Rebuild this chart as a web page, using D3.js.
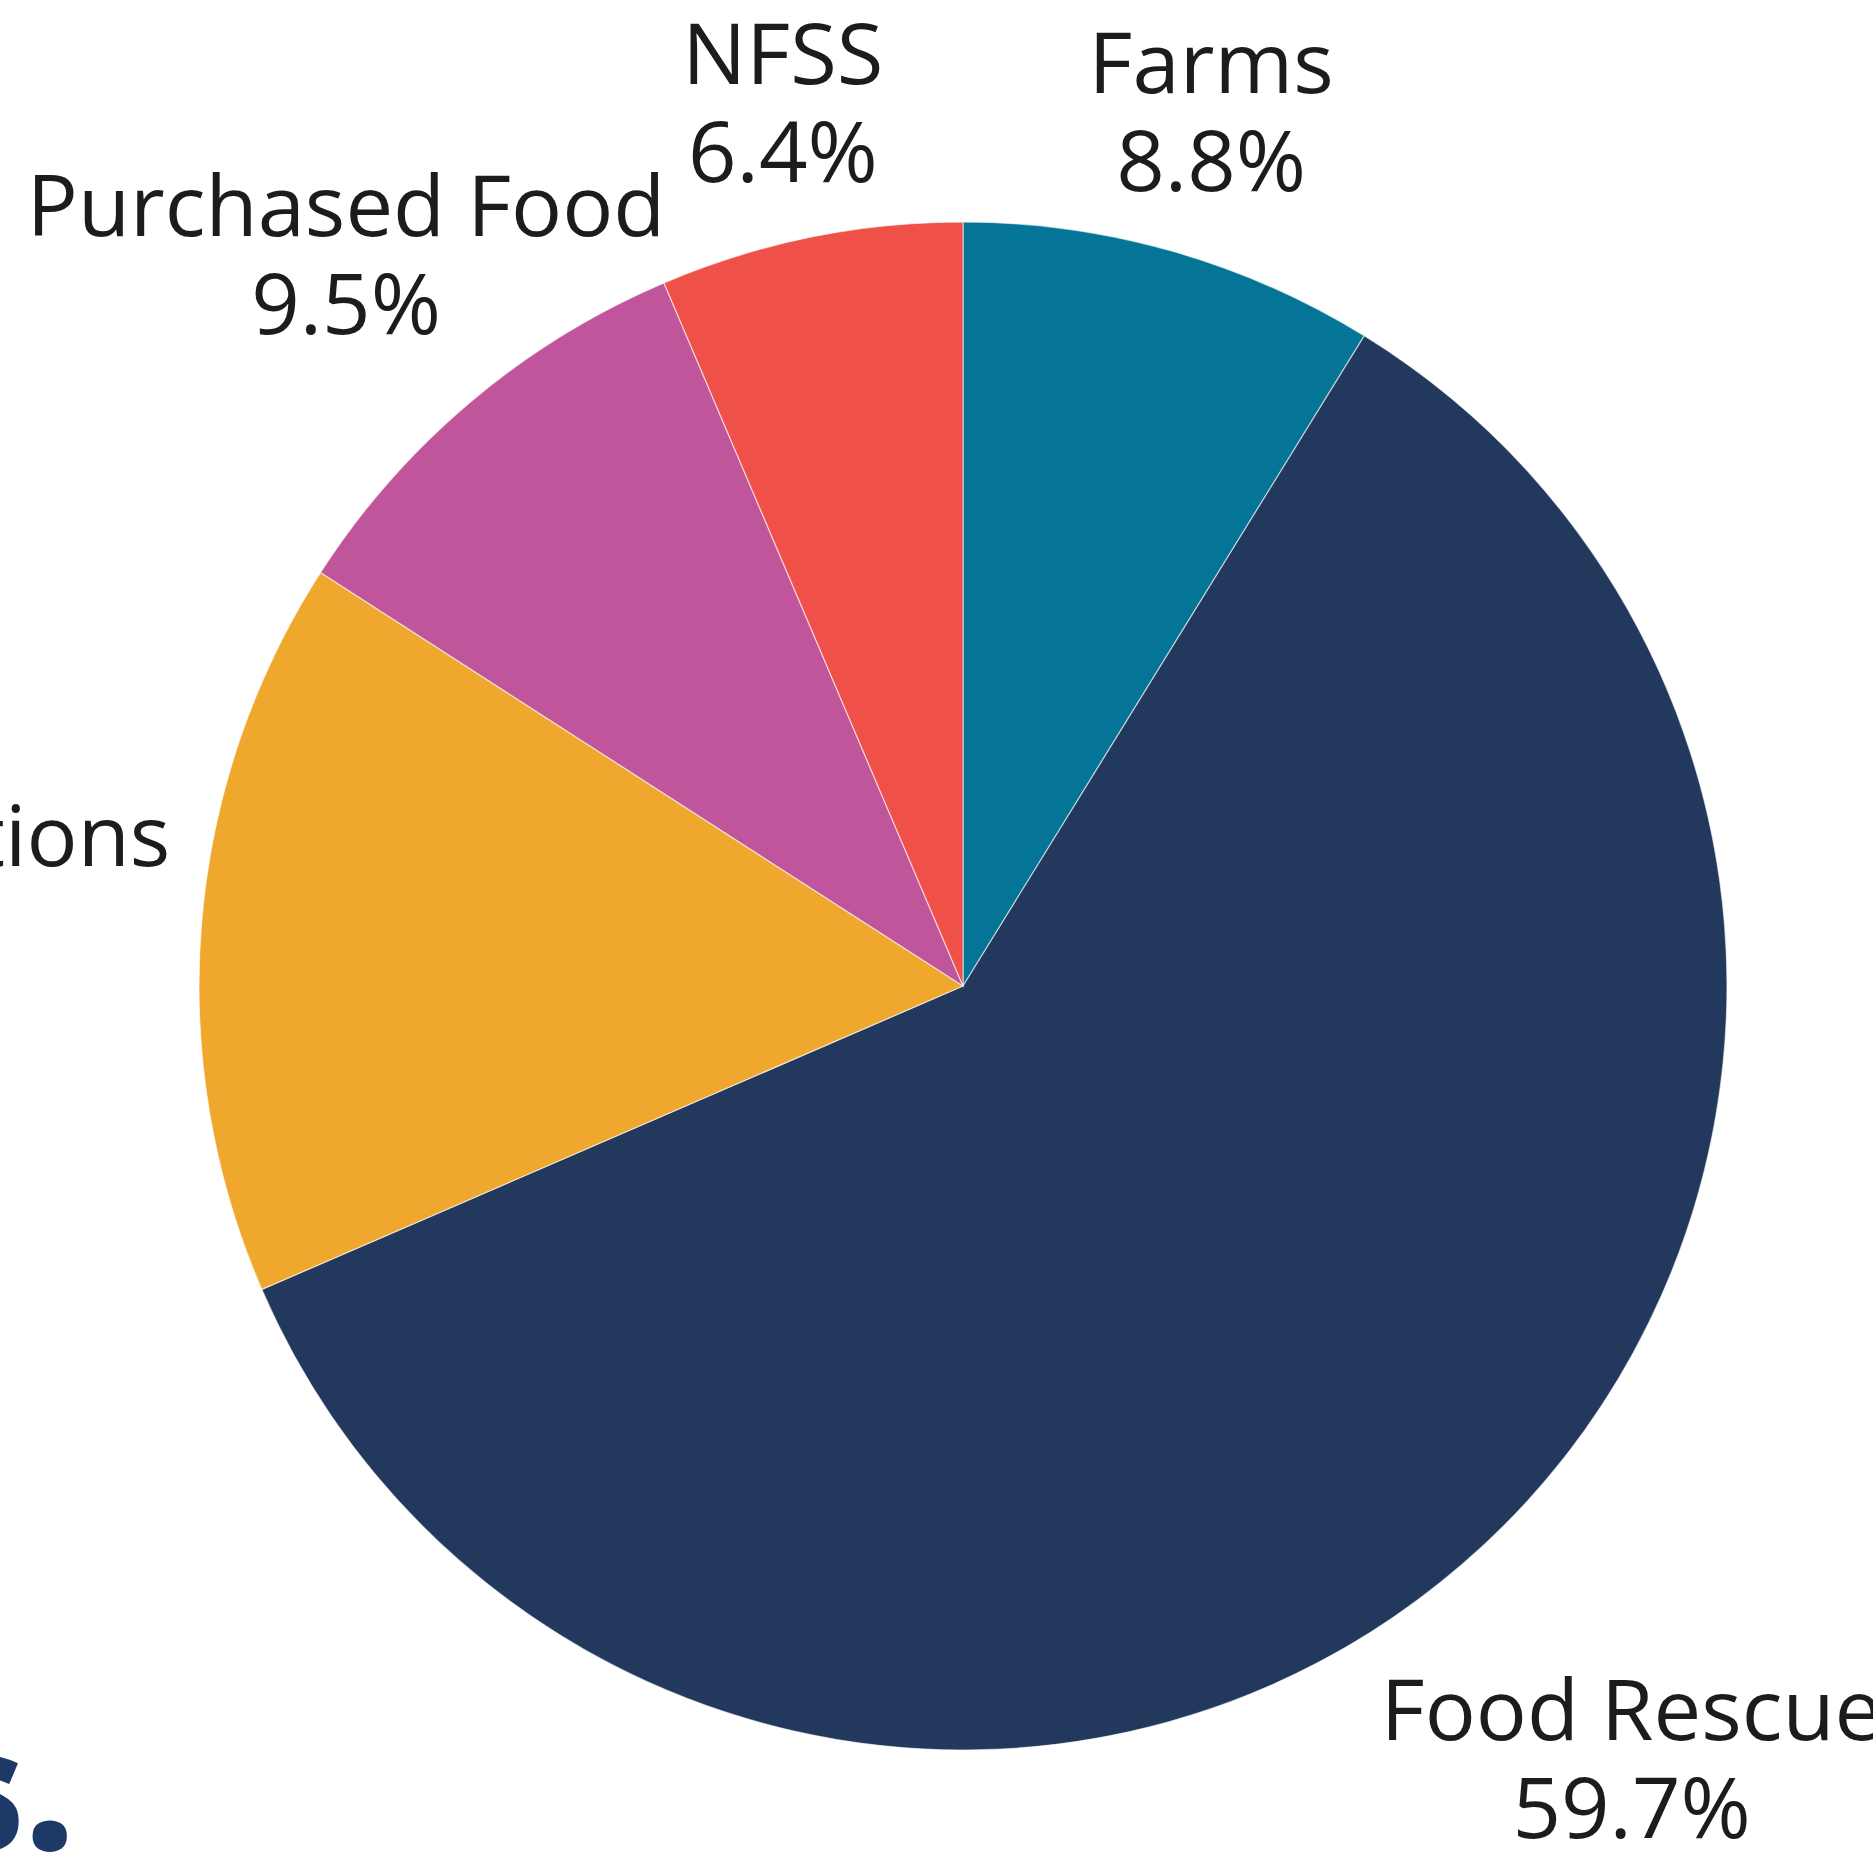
<!DOCTYPE html>
<html>
<head>
<meta charset="utf-8">
<script src="https://cdn.jsdelivr.net/npm/d3@7"></script>
<style>
  body { margin: 0; background: #fff; }
  svg { display: block; }
</style>
</head>
<body>
<svg id="pie"></svg>
<script>
// data (share of total, %)
var categories = ["Farms", "Food Rescue", "Community Donations", "Purchased Food", "NFSS"];
var shares = [8.8, 59.7, 15.6, 9.5, 6.4];
var shareLabels = ["8.8%", "59.7%", "15.6%", "9.5%", "6.4%"];

var colors = ["#047596", "#22385d", "#efa72e", "#c0559b", "#ef5149"];

// distance of each label block centre from the pie centre
var labelDist = [909, 1022, 1242, 957, 902];

var width = 1873, height = 1863;
var cx = 963, cy = 986, radius = 764;
var fontSize = 85, lineGap = 98;

var svg = d3.select("#pie")
  .attr("width", width)
  .attr("height", height);

var g = svg.append("g")
  .attr("transform", "translate(" + cx + "," + cy + ")");

var pie = d3.pie()
  .sort(null)
  .value(function(d) { return d; });

var arcs = pie(shares);

var arc = d3.arc()
  .innerRadius(0)
  .outerRadius(radius);

// slices
g.selectAll("path.slice")
  .data(arcs)
  .enter().append("path")
  .attr("class", "slice")
  .attr("d", arc)
  .attr("fill", function(d, i) { return colors[i]; })
  .attr("stroke", "#fff")
  .attr("stroke-opacity", 0.6)
  .attr("stroke-width", 1.2);

// labels: two centred lines, block centre on the slice's mid angle
var labels = g.selectAll("text.label")
  .data(arcs)
  .enter().append("text")
  .attr("class", "label")
  .attr("text-anchor", "middle")
  .attr("font-family", "'Open Sans', sans-serif")
  .attr("font-size", fontSize + "px")
  .attr("fill", "#1c1c1c")
  .attr("transform", function(d, i) {
    var la = d3.arc().innerRadius(labelDist[i]).outerRadius(labelDist[i]);
    var c = la.centroid(d);
    return "translate(" + c[0] + "," + c[1] + ")";
  });

labels.append("tspan")
  .attr("x", 0)
  .attr("y", -18.5)
  .text(function(d, i) { return categories[i]; });

labels.append("tspan")
  .attr("x", 0)
  .attr("y", -18.5 + lineGap)
  .text(function(d, i) { return shareLabels[i]; });

// tail of a heading that runs into the frame at the bottom left
svg.append("text")
  .attr("x", 74)
  .attr("y", 1850)
  .attr("text-anchor", "end")
  .attr("font-family", "'Open Sans', sans-serif")
  .attr("font-weight", 800)
  .attr("font-size", "168px")
  .attr("fill", "#1d3967")
  .text("s.");
</script>
</body>
</html>
